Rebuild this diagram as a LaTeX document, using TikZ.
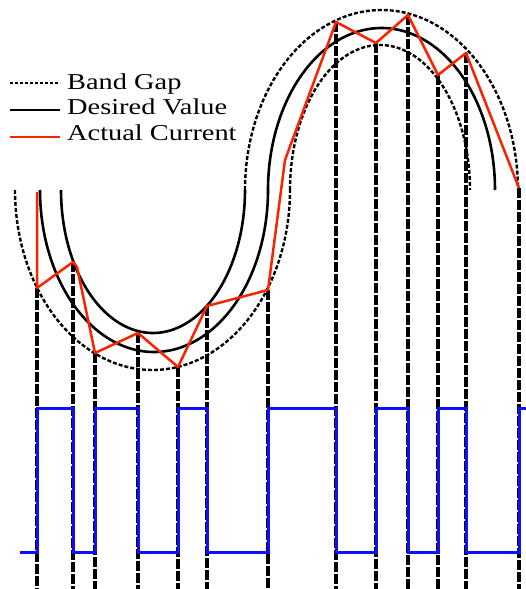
\documentclass[tikz,border=0pt]{standalone}
\usepackage{fontspec}
\setmainfont{Liberation Serif}
\usepackage{graphicx}
\definecolor{curred}{RGB}{250,35,0}
\definecolor{gateblue}{RGB}{15,15,250}
\begin{document}
\begin{tikzpicture}[x=1pt,y=-1pt,
  band/.style={black, line width=2.4pt, dash pattern=on 4pt off 2pt},
  legband/.style={black, line width=2pt, dash pattern=on 3pt off 2pt},
  desired/.style={black, line width=2.6pt},
  actual/.style={draw=curred, line width=2.5pt, line join=round},
  switchline/.style={black, line width=3.2pt, dash pattern=on 10pt off 2pt},
  gate/.style={draw=gateblue, line width=3pt},
  legendtext/.style={anchor=base west, inner sep=0pt, font=\fontsize{22.7}{24}\selectfont}]
\useasboundingbox (0,0) rectangle (526,589);

% reference levels
\coordinate (bot) at (0,589);
\coordinate (hi) at (0,408);
\coordinate (lo) at (0,552);

% switching points of the actual current
\coordinate (a0) at (37,192);
\coordinate (a1) at (37,288);
\coordinate (a2) at (73,262);
\coordinate (a2b) at (77,267);
\coordinate (a3) at (95,353);
\coordinate (a4) at (138,333);
\coordinate (a5) at (178,367);
\coordinate (a6) at (207,306);
\coordinate (a7) at (268,290);
\coordinate (a7b) at (285,160);
\coordinate (a8) at (336,22);
\coordinate (a9) at (376,43);
\coordinate (a10) at (408,15);
\coordinate (a11) at (438,75);
\coordinate (a12) at (466,53);
\coordinate (a13) at (519,188);

% vertical switching lines
\foreach \p in {a1,a2,a3,a4,a5,a6,a7,a8,a9,a10,a11,a12,a13}
  \draw[switchline] (\p) -- (\p |- bot);

% lower band boundary
\draw[band] plot[domain=0:180,samples=121] ({152.5-137.5*cos(\x)},{190+180*sin(\x)});
\draw[band] plot[domain=0:180,samples=121] ({380-90*cos(\x)},{190-145*sin(\x)});
% upper band boundary
\draw[desired] plot[domain=0:180,samples=121] ({153-92*cos(\x)},{190+143*sin(\x)});
\draw[band] plot[domain=0:180,samples=121] ({381.5-136.5*cos(\x)},{190-180*sin(\x)});
% desired value
\draw[desired] plot[domain=0:180,samples=121] ({154-114*cos(\x)},{190+162*sin(\x)});
\draw[desired] plot[domain=0:180,samples=121] ({381.5-113.5*cos(\x)},{190-162*sin(\x)});

% actual current
\draw[actual] (a0) -- (a1) -- (a2) -- (a2b) -- (a3) -- (a4) -- (a5) -- (a6) -- (a7)
  -- (a7b) -- (a8) -- (a9) -- (a10) -- (a11) -- (a12) -- (a13);

% switching signal
\draw[gate] (20,552) -| (a1 |- hi) -| (a2 |- lo) -| (a3 |- hi) -| (a4 |- lo)
  -| (a5 |- hi) -| (a6 |- lo) -| (a7 |- hi) -| (a8 |- lo) -| (a9 |- hi)
  -| (a10 |- lo) -| (a11 |- hi) -| (a12 |- lo) -| (a13 |- hi) -- (526,408);

% legend
\coordinate (l1a) at (10,83); \coordinate (l1b) at (60,83);
\coordinate (l2a) at (10,110); \coordinate (l2b) at (60,110);
\coordinate (l3a) at (10,137); \coordinate (l3b) at (60,137);
\draw[legband] (l1a) -- (l1b);
\draw[desired] (l2a) -- (l2b);
\draw[actual] (l3a) -- (l3b);
\node[legendtext] (lg1) at (67,89) {\scalebox{1.25}[1]{Band Gap}};
\node[legendtext] (lg2) at (67,114) {\scalebox{1.25}[1]{Desired Value}};
\node[legendtext] (lg3) at (67,140) {\scalebox{1.25}[1]{Actual Current}};
\end{tikzpicture}
\end{document}
